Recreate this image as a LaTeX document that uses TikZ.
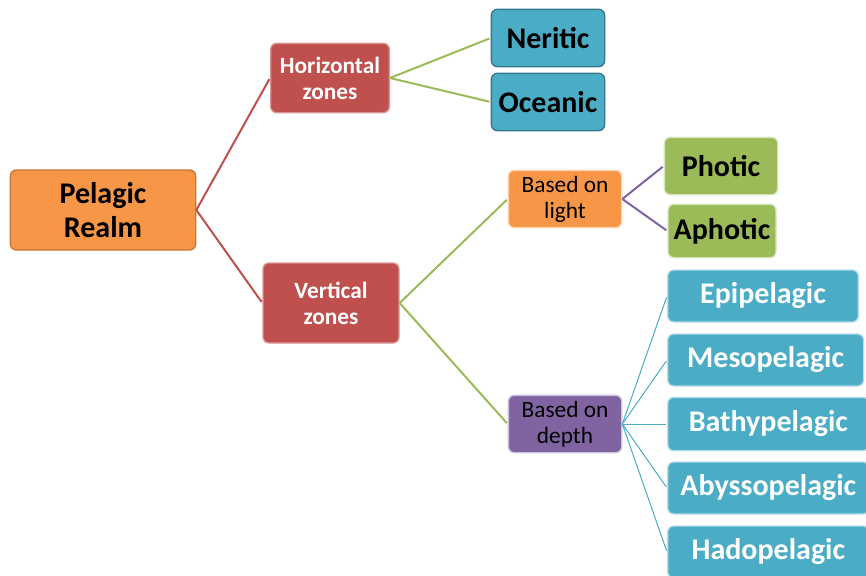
\documentclass[tikz,border=0pt]{standalone}
\usepackage{fontspec}
\setmainfont{Carlito}
\usepackage{tikz}
\usetikzlibrary{positioning}
\definecolor{orng}{HTML}{F79646}
\definecolor{rd}{HTML}{C0504D}
\definecolor{blu}{HTML}{4BACC6}
\definecolor{grn}{HTML}{9BBB59}
\definecolor{prpl}{HTML}{8064A2}

\begin{document}
\begin{tikzpicture}[
            x = 0.75pt, y = -0.75pt, % pixel grid
            shorten > = 1pt, % don't touch the box
            line width = 1.5pt % line style
        ]

        \tikzstyle{box}=[
            rectangle,
            rounded corners = 4.5pt,
            line width = 1pt,
            align = center,
            inner sep = 2pt
        ]
        \tikzstyle{big}=[box, font = \fontsize{22.5}{25}\selectfont\bfseries]
        \tikzstyle{small}=[box, font = \fontsize{17.5}{19.5}\selectfont]

        \useasboundingbox (0,0) rectangle (866,575);

        % root
        \node[big, fill = orng, draw = orng!80!black, minimum width = 139pt, minimum height = 60pt] (PR) at (103,210) {Pelagic\\Realm};

        % first level
        \node[small, font = \fontsize{17.5}{19.5}\selectfont\bfseries, text = white, fill = rd, draw = rd!60!white,
              minimum width = 89pt, minimum height = 52pt] (HZ) at (330,78) {Horizontal\\zones};
        \node[small, font = \fontsize{17.5}{19.5}\selectfont\bfseries, text = white, fill = rd, draw = rd!60!white,
              minimum width = 102pt, minimum height = 60pt] (VZ) at (331,303) {Vertical\\zones};

        \path[rd] (PR.east) edge (HZ.west);
        \path[rd] (PR.east) edge (VZ.west);

        % horizontal zones
        \node[big, fill = blu, draw = blu!70!black, minimum width = 85pt, minimum height = 43pt] (NE) at (548,38) {Neritic};
        \node[big, fill = blu, draw = blu!70!black, minimum width = 85pt, minimum height = 43pt] (OC) [below of = NE, node distance = 48pt] {Oceanic};

        \path[grn] (HZ.east) edge (NE.west);
        \path[grn] (HZ.east) edge (OC.west);

        % vertical zones
        \node[small, fill = orng, draw = orng!40!white, minimum width = 85pt, minimum height = 43pt] (BL) at (565,199) {Based on\\light};
        \node[small, fill = prpl, draw = prpl!40!white, minimum width = 85pt, minimum height = 43pt] (BD) at (565,424) {Based on\\depth};

        \path[grn] (VZ.east) edge (BL.west);
        \path[grn] (VZ.east) edge (BD.west);

        % light
        \node[big, fill = grn, draw = grn!40!white, minimum width = 85pt, minimum height = 43pt] (PH) at (721,166) {Photic};
        \node[big, fill = grn, draw = grn!40!white, minimum width = 81pt, minimum height = 40pt] (AP) at (722,231) {Aphotic};

        \path[prpl] (BL.east) edge (PH.west);
        \path[prpl] (BL.east) edge (AP.west);

        % depth
        \node[big, text = white, fill = blu, draw = blu!40!white, anchor = west, minimum width = 143pt, minimum height = 39pt] (EP) at (667,296) {Epipelagic};
        \node[big, text = white, fill = blu, draw = blu!40!white, anchor = west, minimum width = 147pt, minimum height = 39pt] (ME) at (667,360) {Mesopelagic};
        \node[big, text = white, fill = blu, draw = blu!40!white, anchor = west, minimum width = 151pt, minimum height = 40pt] (BA) at (667,424) {Bathypelagic};
        \node[big, text = white, fill = blu, draw = blu!40!white, anchor = west, minimum width = 151pt, minimum height = 39pt] (AB) at (667,488) {Abyssopelagic};
        \node[big, text = white, fill = blu, draw = blu!40!white, anchor = west, minimum width = 151pt, minimum height = 39pt] (HA) at (667,552) {Hadopelagic};

        \path[blu, line width = 0.75pt] (BD.east) edge (EP.west);
        \path[blu, line width = 0.75pt] (BD.east) edge (ME.west);
        \path[blu, line width = 0.75pt] (BD.east) edge (BA.west);
        \path[blu, line width = 0.75pt] (BD.east) edge (AB.west);
        \path[blu, line width = 0.75pt] (BD.east) edge (HA.west);

  \end{tikzpicture}
\end{document}
